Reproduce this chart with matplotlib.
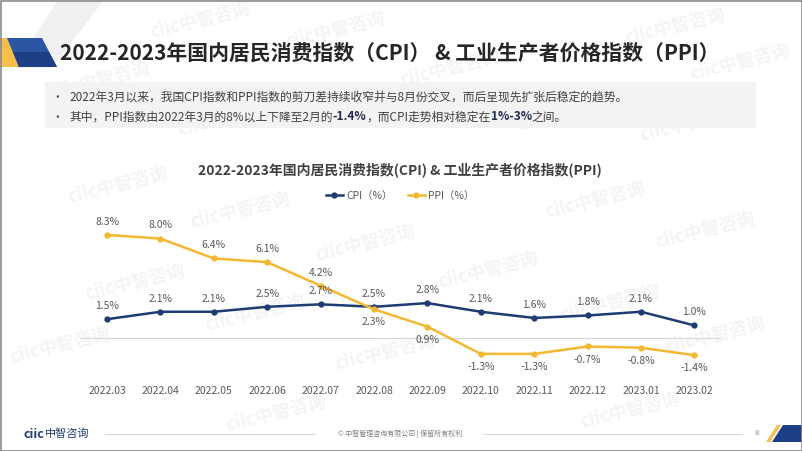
import matplotlib
matplotlib.use("Agg")
import matplotlib.pyplot as plt
from matplotlib.patches import Polygon, Rectangle
from matplotlib.lines import Line2D

plt.rcParams["font.family"] = ["Noto Sans CJK SC", "DejaVu Sans"]

# --- data ---
months = ["2022.03", "2022.04", "2022.05", "2022.06", "2022.07", "2022.08",
          "2022.09", "2022.10", "2022.11", "2022.12", "2023.01", "2023.02"]
cpi = [1.5, 2.1, 2.1, 2.5, 2.7, 2.5, 2.8, 2.1, 1.6, 1.8, 2.1, 1.0]
ppi = [8.3, 8.0, 6.4, 6.1, 4.2, 2.3, 0.9, -1.3, -1.3, -0.7, -0.8, -1.4]
ppi_label_below = [False, False, False, False, False, True,
                   True, True, True, True, True, True]

page_title = "2022-2023年国内居民消费指数（CPI） & 工业生产者价格指数（PPI）"
chart_title = "2022-2023年国内居民消费指数(CPI) & 工业生产者价格指数(PPI)"
bullet1 = "2022年3月以来，我国CPI指数和PPI指数的剪刀差持续收窄并与8月份交叉，而后呈现先扩张后稳定的趋势。"
bullet2 = [("其中，PPI指数由2022年3月的8%以上下降至2月的", False), ("-1.4%", True),
           ("，而CPI走势相对稳定在", False), ("1%-3%", True), ("之间。", False)]

CPI_C = "#1f3b73"
PPI_C = "#f4b731"
GRAY_T = "#595959"
W, H = 802, 451

fig = plt.figure(figsize=(W / 100, H / 100), dpi=100)

# background layer in pixel coordinates
bg = fig.add_axes([0, 0, 1, 1], zorder=0)
bg.set_xlim(0, W)
bg.set_ylim(H, 0)
bg.axis("off")

# watermarks (kept inside the frame)
wm_pos = [(200, 20), (335, 30), (675, 26), (450, 68), (100, 80), (740, 62),
          (228, 118), (568, 113), (690, 123), (118, 185), (240, 210),
          (365, 243), (595, 200), (705, 230), (135, 282), (488, 270),
          (255, 313), (610, 303), (385, 352), (715, 335), (60, 345),
          (276, 413), (630, 410)]
for x, y in wm_pos:
    bg.text(x, y, "ciic中智咨询", fontsize=13, fontweight="bold", color="#f4f4f4",
            rotation=14, ha="center", va="center", zorder=0)

# header decorations
bg.add_patch(Polygon([(58, 0), (104, 0), (52, 68), (14, 68)], closed=True,
                     fc="#f0f0f0", ec="none", zorder=1))
bg.add_patch(Polygon([(0, 38), (12, 38), (22, 67), (0, 67)], closed=True,
                     fc="#f4c04a", ec="none", zorder=2))
bg.add_patch(Polygon([(7, 38), (42, 38), (57, 67), (19, 67)], closed=True,
                     fc="#2b56a3", ec="none", zorder=3))
bg.add_patch(Polygon([(13, 52), (49, 52), (57, 67), (19, 67)], closed=True,
                     fc="#1e3f86", ec="none", zorder=3))
bg.text(60, 53, page_title, fontsize=15, fontweight="bold", color="#262626",
        ha="left", va="center", zorder=4)

# bullet box
bg.add_patch(Rectangle((45, 82), 711, 46, fc="#f3f3f3", ec="none", zorder=1))
bg.text(51, 97, "•", fontsize=8.5, color=GRAY_T, ha="left", va="center", zorder=4)
bg.text(51, 117, "•", fontsize=8.5, color=GRAY_T, ha="left", va="center", zorder=4)
bg.text(69, 97, bullet1, fontsize=8.5, color="#404040", ha="left", va="center", zorder=4)

renderer = fig.canvas.get_renderer()
x0 = 69
for seg, bold in bullet2:
    t = bg.text(x0, 117, seg, fontsize=8.5, ha="left", va="center", zorder=4,
                fontweight="bold" if bold else "normal",
                color="#1e2b4d" if bold else "#404040")
    x0 += t.get_window_extent(renderer=renderer).width

# footer
bg.text(23, 434, "ciic", fontsize=9, fontweight="bold", color="#1f3b73",
        ha="left", va="center", zorder=4)
bg.text(45, 434, "中智咨询", fontsize=8, color="#1f3b73", ha="left", va="center", zorder=4)
bg.plot([105, 315], [434, 434], color="#d0d0d0", lw=0.6, zorder=2)
bg.plot([483, 742], [434, 434], color="#d0d0d0", lw=0.6, zorder=2)
bg.text(400, 434, "© 中智管理咨询有限公司 | 保留所有权利", fontsize=5, color="#7f7f7f",
        ha="center", va="center", zorder=4)
bg.text(757, 433, "8", fontsize=5.5, color="#7f7f7f", ha="center", va="center", zorder=4)
bg.add_patch(Polygon([(766, 442), (770, 442), (781, 425), (777, 425)], closed=True,
                     fc="#f4c04a", ec="none", zorder=3))
bg.add_patch(Polygon([(772, 442), (802, 442), (802, 425), (783, 425)], closed=True,
                     fc="#1e3f86", ec="none", zorder=3))

# frame
bg.add_patch(Rectangle((0.5, 0.5), W - 1, H - 1, fc="none", ec="#8a8a8a", lw=1.2, zorder=5))

# --- chart ---
ax = fig.add_axes([80.3 / W, (H - 375) / H, 640.8 / W, 161.2 / H], zorder=2)
ax.patch.set_alpha(0)
xs = list(range(len(months)))
ax.axhline(0, color="#d9d9d9", lw=0.8, zorder=1)
ax.plot(xs, cpi, color=CPI_C, lw=1.8, marker="o", ms=3.5, zorder=3)
ax.plot(xs, ppi, color=PPI_C, lw=1.8, marker="o", ms=3.5, zorder=3)

for x, v in zip(xs, cpi):
    ax.annotate(f"{v:.1f}%", (x, v), xytext=(0, 9.5), textcoords="offset points",
                ha="center", va="center", fontsize=7.5, color=GRAY_T)
for x, v, below in zip(xs, ppi, ppi_label_below):
    ax.annotate(f"{v:.1f}%", (x, v), xytext=(0, -9.5 if below else 9.5),
                textcoords="offset points", ha="center", va="center",
                fontsize=7.5, color=GRAY_T)

ax.set_xlim(-0.5, len(months) - 0.5)
ax.set_ylim(-3, 10)
ax.set_xticks(xs)
ax.set_xticklabels(months)
ax.tick_params(axis="x", length=0, pad=8, labelsize=7.5, labelcolor=GRAY_T)
ax.set_yticks([])
for s in ax.spines.values():
    s.set_visible(False)

fig.text(400 / W, 1 - 170 / H, chart_title, fontsize=10, fontweight="bold",
         color="#404040", ha="center", va="center")

handles = [Line2D([], [], color=CPI_C, lw=1.8, marker="o", ms=3.5),
           Line2D([], [], color=PPI_C, lw=1.8, marker="o", ms=3.5)]
fig.legend(handles, ["CPI（%）", "PPI（%）"], loc="center",
           bbox_to_anchor=(400 / W, 1 - 196 / H), ncol=2, frameon=False,
           fontsize=7.5, labelcolor=GRAY_T, handlelength=1.6, handletextpad=0.3,
           columnspacing=1.5)

fig.savefig("out.png", dpi=100)
